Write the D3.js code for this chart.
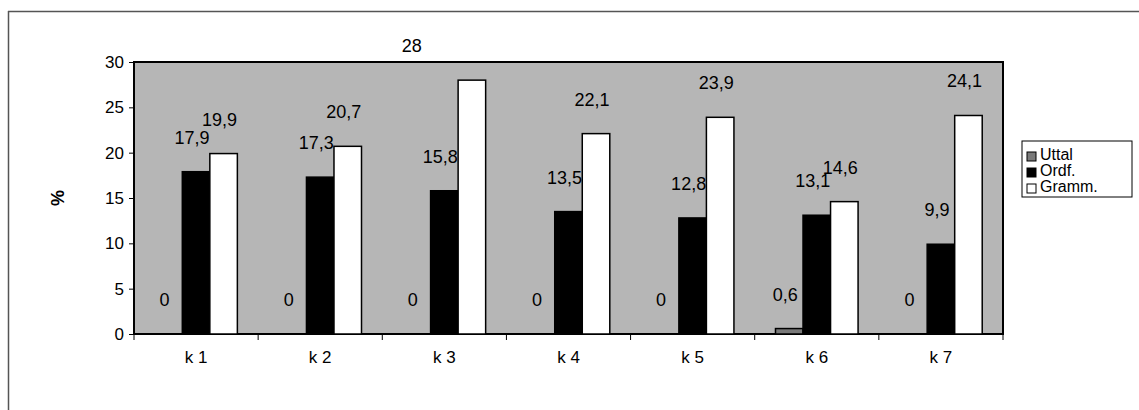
<!DOCTYPE html>
<html>
<head>
<meta charset="utf-8">
<script src="https://cdn.jsdelivr.net/npm/d3@7"></script>
<style>
  html, body { margin: 0; padding: 0; background: #fff; }
  svg { display: block; font-family: "Liberation Sans", Arial, sans-serif; }
</style>
</head>
<body>
<svg id="chart" width="1139" height="410"></svg>
<script>
const categories = ["k 1", "k 2", "k 3", "k 4", "k 5", "k 6", "k 7"];
const seriesNames = ["Uttal", "Ordf.", "Gramm."];
const uttal = [0, 0, 0, 0, 0, 0.6, 0];
const ordf = [17.9, 17.3, 15.8, 13.5, 12.8, 13.1, 9.9];
const gramm = [19.9, 20.7, 28, 22.1, 23.9, 14.6, 24.1];
const yTicks = [0, 5, 10, 15, 20, 25, 30];

const seriesValues = [uttal, ordf, gramm];
const fills = ["#7a7a7a", "#000000", "#ffffff"];
// manual label nudge (layout only), as placed in the original
const labelNudge = { "k 3|Gramm.": -56 };

const svg = d3.select("#chart");
const margin = { left: 134, top: 62, right: 1003, bottom: 334 };

// outer frame (top and left)
svg.append("line").attr("x1", 8).attr("x2", 1139).attr("y1", 11.5).attr("y2", 11.5)
  .attr("stroke", "#555").attr("stroke-width", 1.5);
svg.append("line").attr("x1", 8.5).attr("x2", 8.5).attr("y1", 11).attr("y2", 410)
  .attr("stroke", "#555").attr("stroke-width", 1.5);

const x = d3.scaleBand().domain(categories).range([margin.left, margin.right]).paddingInner(0).paddingOuter(0);
const x1 = d3.scaleBand().domain(seriesNames).range([0, x.bandwidth()]).paddingOuter(0.755).paddingInner(0);
const y = d3.scaleLinear().domain([0, 30]).range([margin.bottom, margin.top]);

// plot background
svg.append("rect")
  .attr("x", margin.left).attr("y", margin.top)
  .attr("width", margin.right - margin.left).attr("height", margin.bottom - margin.top)
  .attr("fill", "#b6b6b6").attr("stroke", "#000").attr("stroke-width", 2);

// bars
const groups = svg.append("g").selectAll("g").data(categories).join("g")
  .attr("transform", d => `translate(${x(d)},0)`);

seriesNames.forEach((s, si) => {
  groups.append("rect")
    .attr("x", x1(s))
    .attr("width", x1.bandwidth())
    .attr("y", (d, i) => y(seriesValues[si][i]))
    .attr("height", (d, i) => y(0) - y(seriesValues[si][i]))
    .attr("fill", fills[si])
    .attr("stroke", "#000")
    .attr("stroke-width", (d, i) => seriesValues[si][i] > 0 ? 1.5 : 0);
});

// value labels
const fmt = v => String(v).replace(".", ",");
seriesNames.forEach((s, si) => {
  groups.append("text")
    .attr("x", d => x1(s) + x1.bandwidth() / 2 - 4 + (labelNudge[d + "|" + s] || 0))
    .attr("y", (d, i) => y(seriesValues[si][i]) - 28)
    .attr("text-anchor", "middle")
    .attr("font-size", 18)
    .attr("fill", "#000")
    .text((d, i) => fmt(seriesValues[si][i]));
});

// y axis
const yAxis = d3.axisLeft(y).tickValues(yTicks).tickSize(5).tickPadding(5);
const ya = svg.append("g").attr("transform", `translate(${margin.left},0)`).call(yAxis);
ya.select(".domain").remove();
ya.selectAll("text").attr("font-size", 17).attr("fill", "#000").attr("font-family", "Liberation Sans, Arial, sans-serif");
ya.selectAll("line").attr("stroke", "#000");

// x axis ticks at band boundaries
const xa = svg.append("g").attr("transform", `translate(0,${margin.bottom})`);
const bounds = categories.map(c => x(c)).concat([x(categories[categories.length - 1]) + x.bandwidth()]);
xa.selectAll("line").data(bounds).join("line")
  .attr("x1", d => d).attr("x2", d => d).attr("y1", 0).attr("y2", 6)
  .attr("stroke", "#000").attr("stroke-width", 1);
xa.selectAll("text").data(categories).join("text")
  .attr("x", d => x(d) + x.bandwidth() / 2)
  .attr("y", 29)
  .attr("text-anchor", "middle")
  .attr("font-size", 17)
  .text(d => d);

// y axis title
svg.append("text")
  .attr("transform", "translate(64,198) rotate(-90)")
  .attr("text-anchor", "middle")
  .attr("font-size", 18)
  .attr("font-weight", "bold")
  .text("%");

// legend
const lg = svg.append("g").attr("transform", "translate(1022,141)");
lg.append("rect").attr("x", 0).attr("y", 0).attr("width", 110).attr("height", 56)
  .attr("fill", "#fff").attr("stroke", "#000").attr("stroke-width", 1);
seriesNames.forEach((s, i) => {
  lg.append("rect").attr("x", 5).attr("y", 11 + i * 16).attr("width", 9).attr("height", 9)
    .attr("fill", fills[i]).attr("stroke", "#000").attr("stroke-width", 1);
  lg.append("text").attr("x", 18).attr("y", 19 + i * 16)
    .attr("font-size", 16).text(s);
});
</script>
</body>
</html>
